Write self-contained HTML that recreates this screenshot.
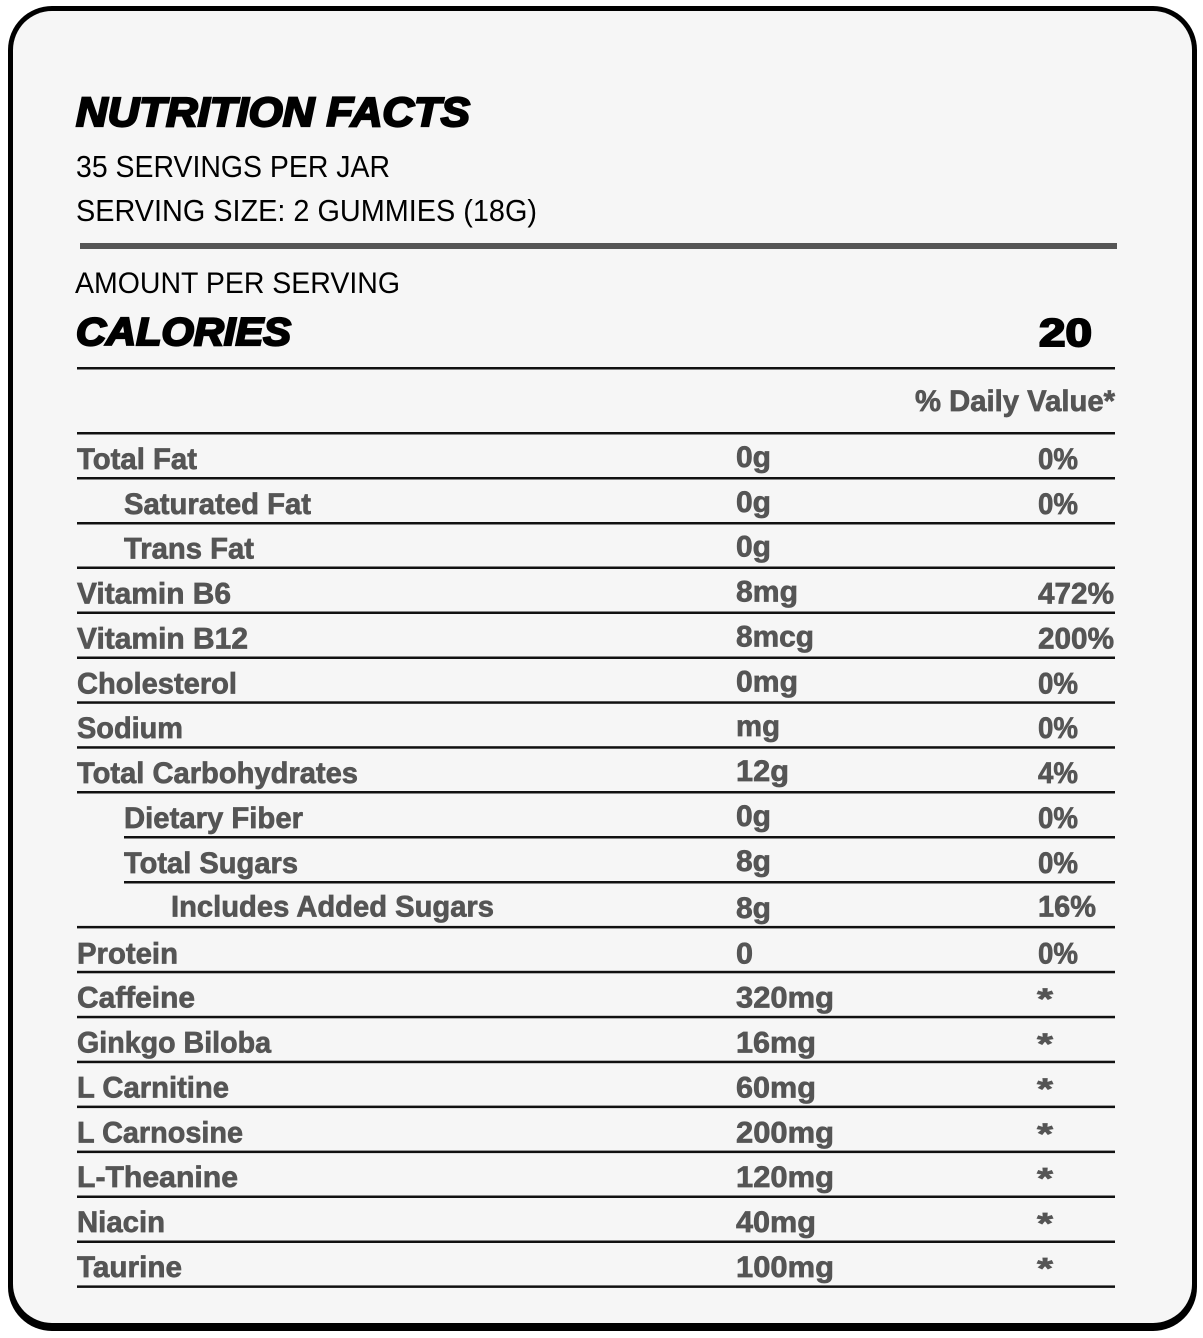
<!DOCTYPE html>
<html>
<head>
<meta charset="utf-8">
<style>
html,body{margin:0;padding:0;background:#fff;}
svg{display:block;}
.t{font-family:"Liberation Sans",sans-serif;}
.g{font-family:"Liberation Sans",sans-serif;font-weight:bold;fill:#555;stroke:#555;stroke-width:0.7;font-size:30px;}
</style>
</head>
<body>
<svg width="1203" height="1338" viewBox="0 0 1203 1338" xmlns="http://www.w3.org/2000/svg">
<rect x="0" y="0" width="1203" height="1338" fill="#fff"/>
<rect x="8" y="6" width="1189" height="1325" rx="44" ry="44" fill="#000"/>
<rect x="13" y="11" width="1179" height="1312" rx="39" ry="39" fill="#f6f6f6"/>

<!-- Header -->
<text class="t" x="76" y="126" font-size="41" font-weight="bold" font-style="italic" fill="#000" stroke="#000" stroke-width="2.2" textLength="394" lengthAdjust="spacingAndGlyphs">NUTRITION FACTS</text>
<text class="t" x="76" y="177" font-size="31" fill="#000" textLength="314" lengthAdjust="spacingAndGlyphs">35 SERVINGS PER JAR</text>
<text class="t" x="76" y="221" font-size="31" fill="#000" textLength="461" lengthAdjust="spacingAndGlyphs">SERVING SIZE: 2 GUMMIES (18G)</text>
<rect x="80" y="243" width="1037" height="6" fill="#555"/>
<text class="t" x="75" y="293" font-size="30" fill="#000" textLength="325" lengthAdjust="spacingAndGlyphs">AMOUNT PER SERVING</text>
<text class="t" x="76" y="345" font-size="39" font-weight="bold" font-style="italic" fill="#000" stroke="#000" stroke-width="2.2" textLength="215" lengthAdjust="spacingAndGlyphs">CALORIES</text>
<text class="t" x="1039" y="346" font-size="39" font-weight="bold" fill="#000" stroke="#000" stroke-width="2" textLength="53" lengthAdjust="spacingAndGlyphs">20</text>
<rect x="77" y="367" width="1038" height="2.5" fill="#111"/>
<text class="g" x="915" y="411" textLength="200" lengthAdjust="spacingAndGlyphs">% Daily Value*</text>

<!-- Rules -->
<g fill="#111">
<rect x="77" y="432" width="1038" height="2.5"/>
<rect x="77" y="477" width="1038" height="2.5"/>
<rect x="77" y="522" width="1038" height="2.5"/>
<rect x="77" y="566.5" width="1038" height="2.5"/>
<rect x="77" y="611.5" width="1038" height="2.5"/>
<rect x="77" y="656.5" width="1038" height="2.5"/>
<rect x="77" y="701.3" width="1038" height="2.5"/>
<rect x="77" y="746.2" width="1038" height="2.5"/>
<rect x="77" y="791" width="1038" height="2.5"/>
<rect x="124" y="836" width="991" height="2.5"/>
<rect x="124" y="881" width="991" height="2.5"/>
<rect x="77" y="925.9" width="1038" height="2.5"/>
<rect x="77" y="970.8" width="1038" height="2.5"/>
<rect x="77" y="1015.8" width="1038" height="2.5"/>
<rect x="77" y="1060.7" width="1038" height="2.5"/>
<rect x="77" y="1105.6" width="1038" height="2.5"/>
<rect x="77" y="1150.6" width="1038" height="2.5"/>
<rect x="77" y="1195.5" width="1038" height="2.5"/>
<rect x="77" y="1240.5" width="1038" height="2.5"/>
<rect x="77" y="1285.4" width="1038" height="2.5"/>
</g>

<!-- Rows -->
<g>
<text class="g" x="77" y="469" textLength="120" lengthAdjust="spacingAndGlyphs">Total Fat</text>
<text class="g" x="736" y="467" textLength="35" lengthAdjust="spacingAndGlyphs">0g</text>
<text class="g" x="1038" y="469" textLength="40" lengthAdjust="spacingAndGlyphs">0%</text>

<text class="g" x="124" y="514" textLength="187" lengthAdjust="spacingAndGlyphs">Saturated Fat</text>
<text class="g" x="736" y="512" textLength="35" lengthAdjust="spacingAndGlyphs">0g</text>
<text class="g" x="1038" y="514" textLength="40" lengthAdjust="spacingAndGlyphs">0%</text>

<text class="g" x="124" y="558.5" textLength="130" lengthAdjust="spacingAndGlyphs">Trans Fat</text>
<text class="g" x="736" y="556.5" textLength="35" lengthAdjust="spacingAndGlyphs">0g</text>

<text class="g" x="77" y="603.5" textLength="154" lengthAdjust="spacingAndGlyphs">Vitamin B6</text>
<text class="g" x="736" y="601.5" textLength="62" lengthAdjust="spacingAndGlyphs">8mg</text>
<text class="g" x="1038" y="603.5" textLength="76" lengthAdjust="spacingAndGlyphs">472%</text>

<text class="g" x="77" y="648.5" textLength="171" lengthAdjust="spacingAndGlyphs">Vitamin B12</text>
<text class="g" x="736" y="646.5" textLength="78" lengthAdjust="spacingAndGlyphs">8mcg</text>
<text class="g" x="1038" y="648.5" textLength="76" lengthAdjust="spacingAndGlyphs">200%</text>

<text class="g" x="77" y="693.3" textLength="160" lengthAdjust="spacingAndGlyphs">Cholesterol</text>
<text class="g" x="736" y="691.3" textLength="62" lengthAdjust="spacingAndGlyphs">0mg</text>
<text class="g" x="1038" y="693.3" textLength="40" lengthAdjust="spacingAndGlyphs">0%</text>

<text class="g" x="77" y="738.2" textLength="106" lengthAdjust="spacingAndGlyphs">Sodium</text>
<text class="g" x="736" y="736.2" textLength="44" lengthAdjust="spacingAndGlyphs">mg</text>
<text class="g" x="1038" y="738.2" textLength="40" lengthAdjust="spacingAndGlyphs">0%</text>

<text class="g" x="77" y="783" textLength="281" lengthAdjust="spacingAndGlyphs">Total Carbohydrates</text>
<text class="g" x="736" y="781" textLength="53" lengthAdjust="spacingAndGlyphs">12g</text>
<text class="g" x="1038" y="783" textLength="40" lengthAdjust="spacingAndGlyphs">4%</text>

<text class="g" x="124" y="828" textLength="179" lengthAdjust="spacingAndGlyphs">Dietary Fiber</text>
<text class="g" x="736" y="826" textLength="35" lengthAdjust="spacingAndGlyphs">0g</text>
<text class="g" x="1038" y="828" textLength="40" lengthAdjust="spacingAndGlyphs">0%</text>

<text class="g" x="124" y="873" textLength="174" lengthAdjust="spacingAndGlyphs">Total Sugars</text>
<text class="g" x="736" y="871" textLength="35" lengthAdjust="spacingAndGlyphs">8g</text>
<text class="g" x="1038" y="873" textLength="40" lengthAdjust="spacingAndGlyphs">0%</text>

<text class="g" x="171" y="916.5" textLength="323" lengthAdjust="spacingAndGlyphs">Includes Added Sugars</text>
<text class="g" x="736" y="918" textLength="35" lengthAdjust="spacingAndGlyphs">8g</text>
<text class="g" x="1038" y="916.5" textLength="58" lengthAdjust="spacingAndGlyphs">16%</text>

<text class="g" x="77" y="963.5" textLength="101" lengthAdjust="spacingAndGlyphs">Protein</text>
<text class="g" x="736" y="963.5" textLength="17" lengthAdjust="spacingAndGlyphs">0</text>
<text class="g" x="1038" y="963.5" textLength="40" lengthAdjust="spacingAndGlyphs">0%</text>

<text class="g" x="77" y="1007.5" textLength="118" lengthAdjust="spacingAndGlyphs">Caffeine</text>
<text class="g" x="736" y="1007.5" textLength="98" lengthAdjust="spacingAndGlyphs">320mg</text>
<text class="g" x="1037" y="1009" font-size="34" textLength="16" lengthAdjust="spacingAndGlyphs">*</text>

<text class="g" x="77" y="1052.4" textLength="194" lengthAdjust="spacingAndGlyphs">Ginkgo Biloba</text>
<text class="g" x="736" y="1052.4" textLength="80" lengthAdjust="spacingAndGlyphs">16mg</text>
<text class="g" x="1037" y="1053.9" font-size="34" textLength="16" lengthAdjust="spacingAndGlyphs">*</text>

<text class="g" x="77" y="1097.3" textLength="152" lengthAdjust="spacingAndGlyphs">L Carnitine</text>
<text class="g" x="736" y="1097.3" textLength="80" lengthAdjust="spacingAndGlyphs">60mg</text>
<text class="g" x="1037" y="1098.8" font-size="34" textLength="16" lengthAdjust="spacingAndGlyphs">*</text>

<text class="g" x="77" y="1142.3" textLength="166" lengthAdjust="spacingAndGlyphs">L Carnosine</text>
<text class="g" x="736" y="1142.3" textLength="98" lengthAdjust="spacingAndGlyphs">200mg</text>
<text class="g" x="1037" y="1143.8" font-size="34" textLength="16" lengthAdjust="spacingAndGlyphs">*</text>

<text class="g" x="77" y="1187.2" textLength="161" lengthAdjust="spacingAndGlyphs">L-Theanine</text>
<text class="g" x="736" y="1187.2" textLength="98" lengthAdjust="spacingAndGlyphs">120mg</text>
<text class="g" x="1037" y="1188.7" font-size="34" textLength="16" lengthAdjust="spacingAndGlyphs">*</text>

<text class="g" x="77" y="1232.2" textLength="88" lengthAdjust="spacingAndGlyphs">Niacin</text>
<text class="g" x="736" y="1232.2" textLength="80" lengthAdjust="spacingAndGlyphs">40mg</text>
<text class="g" x="1037" y="1233.7" font-size="34" textLength="16" lengthAdjust="spacingAndGlyphs">*</text>

<text class="g" x="77" y="1277.1" textLength="105" lengthAdjust="spacingAndGlyphs">Taurine</text>
<text class="g" x="736" y="1277.1" textLength="98" lengthAdjust="spacingAndGlyphs">100mg</text>
<text class="g" x="1037" y="1278.6" font-size="34" textLength="16" lengthAdjust="spacingAndGlyphs">*</text>
</g>
</svg>
</body>
</html>
